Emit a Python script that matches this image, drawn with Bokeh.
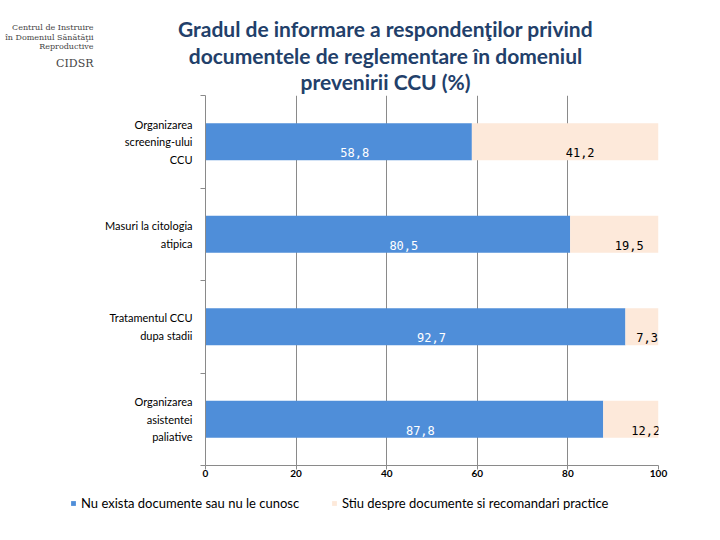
from bokeh.plotting import figure
from bokeh.layouts import column, row
from bokeh.models import Range1d, FixedTicker, ColumnDataSource, Legend, LegendItem
from bokeh.core.properties import value
from bokeh.embed import file_html
from bokeh.resources import INLINE

# ---- data ----
categories = ["Organizarea screening-ului CCU", "Masuri la citologia atipica",
              "Tratamentul CCU dupa stadii", "Organizarea asistentei paliative"]
category_labels = ["Organizarea\nscreening-ului\nCCU", "Masuri la citologia\natipica",
                   "Tratamentul CCU\ndupa stadii", "Organizarea\nasistentei\npaliative"]
nu_exista = [58.8, 80.5, 92.7, 87.8]
stiu = [41.2, 19.5, 7.3, 12.2]
series_names = ["Nu exista documente sau nu le cunosc",
                "Stiu despre documente si recomandari practice"]
x_ticks = [0, 20, 40, 60, 80, 100]
title_lines = ["Gradul de informare a respondenţilor privind",
               "documentele de reglementare în domeniul",
               "prevenirii CCU (%)"]
logo_lines = ["Centrul de Instruire", "în Domeniul Sănătăţii", "Reproductive"]
logo_name = "CIDSR"

BLUE = "#4F8ED9"
PINK = "#FDE9DA"
GRID = "#8A8A8A"
TITLE = "#22406A"

W = 700
HEAD_H, MAIN_H, FOOT_H = 95, 400, 25

# ---------------- header (title + logo) ----------------
head = figure(width=W, height=HEAD_H, output_backend="svg", toolbar_location=None,
              x_range=Range1d(0, W), y_range=Range1d(HEAD_H, 0),
              x_axis_type=None, y_axis_type=None, min_border=0, title=None)
head.outline_line_color = None
head.grid.visible = False
head.text(x=[385] * 3, y=[28, 55, 81], text=title_lines,
          text_font=value("Lato"), text_font_style="bold", text_font_size="21px",
          text_color=TITLE, text_align="center", text_baseline="alphabetic")
head.text(x=[93] * 3, y=[27, 37, 46], text=logo_lines,
          text_font=value("DejaVu Serif"), text_font_size="8px",
          text_color="#444444", text_align="right", text_baseline="alphabetic")
head.text(x=[93], y=[63], text=[logo_name],
          text_font=value("DejaVu Serif"), text_font_size="11px",
          text_color="#444444", text_align="right", text_baseline="alphabetic")

# ---------------- main chart ----------------
n = len(categories)
ypos = [n - i - 0.5 for i in range(n)]
b_end = [u + v for u, v in zip(nu_exista, stiu)]
src = ColumnDataSource(dict(
    y=ypos,
    a_end=nu_exista,
    b_end=b_end,
    a_mid=[u / 2 for u in nu_exista],
    b_mid=[min(u + v / 2 + 3.3, 100 - 2.5) for u, v in zip(nu_exista, stiu)],
    a_txt=[f"{u:.1f}".replace(".", ",") for u in nu_exista],
    b_txt=[f"{v:.1f}".replace(".", ",") for v in stiu],
))

p = figure(width=W, height=MAIN_H, output_backend="svg", toolbar_location=None,
           x_range=Range1d(0, 100), y_range=Range1d(0, n), title=None,
           min_border_left=205, min_border_right=W - 658, min_border_top=0,
           min_border_bottom=30)
p.outline_line_color = None

r1 = p.hbar(y="y", left=0, right="a_end", height=0.4, source=src,
            fill_color=BLUE, line_color=None)
r2 = p.hbar(y="y", left="a_end", right="b_end", height=0.4, source=src,
            fill_color=PINK, line_color=None)

p.text(x="a_mid", y="y", text="a_txt", source=src, x_offset=16, y_offset=11,
       text_color="white", text_font=value("DejaVu Sans Mono"), text_font_size="12px",
       text_align="center", text_baseline="middle")
p.text(x="b_mid", y="y", text="b_txt", source=src, y_offset=11,
       text_color="black", text_font=value("DejaVu Sans Mono"), text_font_size="12px",
       text_align="center", text_baseline="middle")

p.xaxis.ticker = FixedTicker(ticks=x_ticks)
p.xaxis.axis_line_color = GRID
p.xaxis.major_tick_line_color = GRID
p.xaxis.major_tick_out = 4
p.xaxis.major_tick_in = 0
p.xaxis.minor_tick_line_color = None
p.xaxis.major_label_text_font = "Lato"
p.xaxis.major_label_text_font_style = "bold"
p.xaxis.major_label_text_font_size = "10px"
p.xaxis.major_label_text_color = "black"
p.xaxis.major_label_standoff = 0

p.yaxis.ticker = FixedTicker(ticks=ypos, minor_ticks=list(range(n + 1)))
p.yaxis.major_label_overrides = {y: lab for y, lab in zip(ypos, category_labels)}
p.yaxis.axis_line_color = GRID
p.yaxis.major_tick_line_color = None
p.yaxis.major_tick_out = 0
p.yaxis.major_tick_in = 0
p.yaxis.minor_tick_line_color = GRID
p.yaxis.minor_tick_out = 5
p.yaxis.minor_tick_in = 0
p.yaxis.major_label_text_font = "Lato"
p.yaxis.major_label_text_font_size = "11px"
p.yaxis.major_label_text_line_height = 1.35
p.yaxis.major_label_text_color = "black"
p.yaxis.major_label_standoff = 8

p.xgrid.ticker = FixedTicker(ticks=x_ticks)
p.xgrid.grid_line_color = GRID
p.ygrid.grid_line_color = None

# ---------------- footer (legend) ----------------
foot = figure(width=W, height=FOOT_H, output_backend="svg", toolbar_location=None,
              x_range=Range1d(0, 1), y_range=Range1d(0, 1),
              x_axis_type=None, y_axis_type=None, min_border=0, title=None)
foot.outline_line_color = None
foot.grid.visible = False
# swatch renderers for the legend (their bars lie outside the footer's visible range)
sw = dict(y=[-10], left=[0], right=[1])
f1 = foot.hbar(height=0.1, source=ColumnDataSource(sw), fill_color=BLUE, line_color=None,
               y="y", left="left", right="right")
f2 = foot.hbar(height=0.1, source=ColumnDataSource(sw), fill_color=PINK, line_color=None,
               y="y", left="left", right="right")
for rend, name, xx in [(f1, series_names[0], 70), (f2, series_names[1], 331)]:
    lg = Legend(items=[LegendItem(label=name, renderers=[rend])], location=(xx, 9),
                orientation="horizontal", padding=0, margin=0, border_line_color=None,
                background_fill_alpha=0, glyph_width=6, glyph_height=6, label_standoff=5,
                label_height=12, label_text_font="Lato", label_text_font_size="13px",
                label_text_color="black")
    foot.add_layout(lg, "center")

layout = column(row(head), p, row(foot), spacing=0)
open("out.html", "w").write(file_html(layout, INLINE))
